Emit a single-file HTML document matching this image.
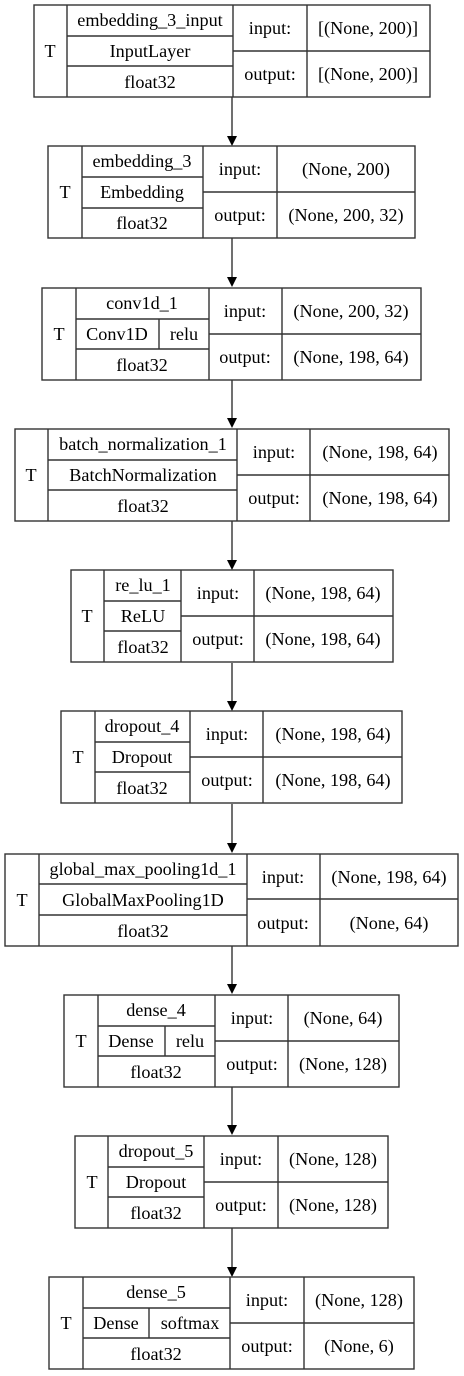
<!DOCTYPE html>
<html><head><meta charset="utf-8"><style>
html,body{margin:0;padding:0;background:#fff;}
svg{display:block;}
text{font-family:"Liberation Serif",serif;font-size:18.2px;fill:#000;text-anchor:middle;}
.b{fill:none;stroke:#333;stroke-width:1.4;}
</style></head><body>
<svg width="464" height="1376" viewBox="0 0 464 1376" xmlns="http://www.w3.org/2000/svg">
<g class="b">
<path d="M232 97V136 M232 238V277 M232 380V418 M232 521V560 M232 663V701 M232 804V843 M232 946V984 M232 1087V1125 M232 1228V1267"/>
</g>
<g fill="#000">
<path d="M227 136H237L232 146Z M227 277H237L232 287Z M227 418H237L232 428Z M227 560H237L232 570Z M227 701H237L232 711Z M227 843H237L232 853Z M227 984H237L232 994Z M227 1125H237L232 1135Z M227 1267H237L232 1277Z"/>
</g>

<g class="b"><rect x="34" y="5" width="396" height="92"/><path d="M67 5V97M233 5V97M307 5V97M67 36H233M67 66H233M233 51H430"/></g>
<text x="50" y="57">T</text><text x="150" y="26">embedding_3_input</text><text x="150" y="57">InputLayer</text><text x="150" y="88">float32</text>
<text x="270" y="34">input:</text><text x="270" y="80">output:</text><text x="368" y="34">[(None, 200)]</text><text x="368" y="80">[(None, 200)]</text>

<g class="b"><rect x="48" y="146" width="367" height="92"/><path d="M82 146V238M203 146V238M277 146V238M82 177H203M82 208H203M203 192H415"/></g>
<text x="65" y="198">T</text><text x="142" y="167">embedding_3</text><text x="142" y="198">Embedding</text><text x="142" y="229">float32</text>
<text x="240" y="175">input:</text><text x="240" y="221">output:</text><text x="346" y="175">(None, 200)</text><text x="346" y="221">(None, 200, 32)</text>

<g class="b"><rect x="42" y="288" width="379" height="92"/><path d="M76 288V380M209 288V380M282 288V380M76 319H209M76 349H209M159 319V349M209 334H421"/></g>
<text x="59" y="340">T</text><text x="142" y="309">conv1d_1</text><text x="117" y="340">Conv1D</text><text x="184" y="340">relu</text><text x="142" y="371">float32</text>
<text x="245" y="317">input:</text><text x="245" y="363">output:</text><text x="351" y="317">(None, 200, 32)</text><text x="351" y="363">(None, 198, 64)</text>

<g class="b"><rect x="15" y="429" width="434" height="92"/><path d="M48 429V521M237 429V521M310 429V521M48 460H237M48 490H237M237 475H449"/></g>
<text x="31" y="481">T</text><text x="143" y="450">batch_normalization_1</text><text x="143" y="481">BatchNormalization</text><text x="143" y="512">float32</text>
<text x="274" y="458">input:</text><text x="274" y="504">output:</text><text x="380" y="458">(None, 198, 64)</text><text x="380" y="504">(None, 198, 64)</text>

<g class="b"><rect x="71" y="570" width="322" height="92"/><path d="M104 570V662M181 570V662M254 570V662M104 601H181M104 631H181M181 616H393"/></g>
<text x="87" y="622">T</text><text x="143" y="591">re_lu_1</text><text x="143" y="622">ReLU</text><text x="143" y="653">float32</text>
<text x="218" y="599">input:</text><text x="218" y="645">output:</text><text x="323" y="599">(None, 198, 64)</text><text x="323" y="645">(None, 198, 64)</text>

<g class="b"><rect x="61" y="711" width="341" height="92"/><path d="M95 711V803M190 711V803M263 711V803M95 742H190M95 772H190M190 757H402"/></g>
<text x="78" y="763">T</text><text x="142" y="732">dropout_4</text><text x="142" y="763">Dropout</text><text x="142" y="794">float32</text>
<text x="227" y="740">input:</text><text x="227" y="786">output:</text><text x="333" y="740">(None, 198, 64)</text><text x="333" y="786">(None, 198, 64)</text>

<g class="b"><rect x="5" y="854" width="453" height="92"/><path d="M39 854V946M247 854V946M320 854V946M39 884H247M39 915H247M247 899H458"/></g>
<text x="22" y="906">T</text><text x="143" y="875">global_max_pooling1d_1</text><text x="143" y="906">GlobalMaxPooling1D</text><text x="143" y="937">float32</text>
<text x="283" y="883">input:</text><text x="283" y="929">output:</text><text x="389" y="883">(None, 198, 64)</text><text x="389" y="929">(None, 64)</text>

<g class="b"><rect x="64" y="995" width="335" height="92"/><path d="M98 995V1087M215 995V1087M288 995V1087M98 1026H215M98 1056H215M165 1026V1056M215 1041H399"/></g>
<text x="81" y="1047">T</text><text x="156" y="1016">dense_4</text><text x="131" y="1047">Dense</text><text x="190" y="1047">relu</text><text x="156" y="1078">float32</text>
<text x="252" y="1024">input:</text><text x="252" y="1070">output:</text><text x="343" y="1024">(None, 64)</text><text x="343" y="1070">(None, 128)</text>

<g class="b"><rect x="75" y="1136" width="313" height="92"/><path d="M108 1136V1228M204 1136V1228M278 1136V1228M108 1167H204M108 1197H204M204 1182H388"/></g>
<text x="92" y="1188">T</text><text x="156" y="1157">dropout_5</text><text x="156" y="1188">Dropout</text><text x="156" y="1219">float32</text>
<text x="241" y="1165">input:</text><text x="241" y="1211">output:</text><text x="333" y="1165">(None, 128)</text><text x="333" y="1211">(None, 128)</text>

<g class="b"><rect x="49" y="1277" width="365" height="92"/><path d="M83 1277V1369M230 1277V1369M304 1277V1369M83 1308H230M83 1338H230M149 1308V1338M230 1323H414"/></g>
<text x="66" y="1329">T</text><text x="156" y="1298">dense_5</text><text x="116" y="1329">Dense</text><text x="190" y="1329">softmax</text><text x="156" y="1360">float32</text>
<text x="267" y="1306">input:</text><text x="267" y="1352">output:</text><text x="359" y="1306">(None, 128)</text><text x="359" y="1352">(None, 6)</text>
</svg>
</body></html>
